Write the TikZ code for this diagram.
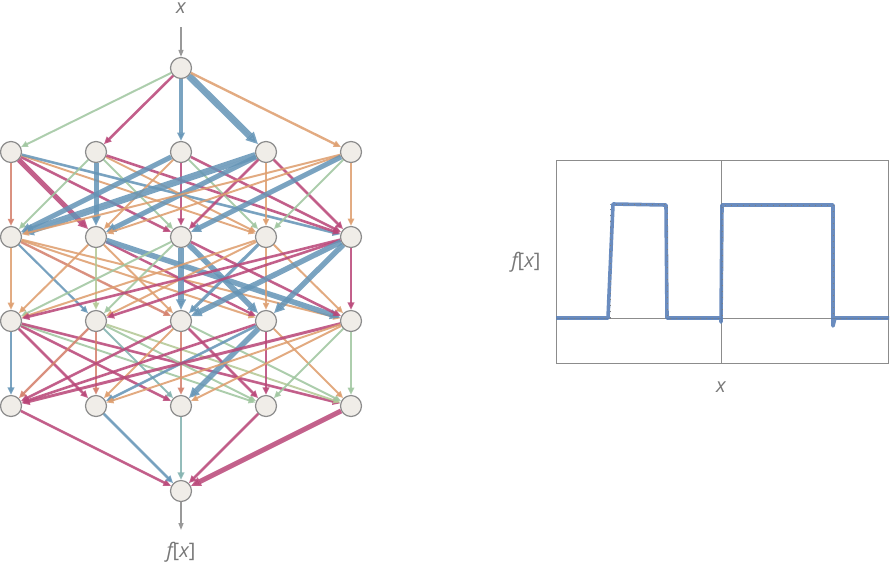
\documentclass[tikz,border=0pt]{standalone}
\usepackage{fontspec}
\newfontfamily\labfont{Open Sans}
\usetikzlibrary{arrows.meta}
\definecolor{cblue}{RGB}{100,148,182}
\definecolor{cmag}{RGB}{185,70,120}
\definecolor{corg}{RGB}{222,158,110}
\definecolor{csal}{RGB}{212,128,108}
\definecolor{cgrn}{RGB}{160,198,160}
\definecolor{cteal}{RGB}{130,178,175}
\definecolor{colive}{RGB}{180,200,150}
\definecolor{nodefill}{RGB}{240,237,232}
\definecolor{nodeline}{RGB}{140,140,140}
\definecolor{txtgray}{RGB}{120,120,120}
\definecolor{curveblue}{RGB}{90,128,184}
\begin{document}
\begin{tikzpicture}[x=1pt,y=-1pt,
  neuron/.style={circle,minimum size=21pt,inner sep=0pt,fill=nodefill,draw=nodeline,line width=1.2pt},
  wedge/.style={-{Triangle[length=5pt 1,width=4pt 1]},draw opacity=0.85,fill opacity=0.85},
  io/.style={-{Triangle[length=7pt,width=5pt]},draw=black!40,line width=1.4pt},
  lab/.style={font=\labfont\fontsize{20}{24}\selectfont,text=txtgray,inner sep=0pt},
  frame/.style={draw=black!45,line width=0.8pt}]
\useasboundingbox (0,0) rectangle (890,566);
% nodes
\node[neuron] (in) at (181,68) {};
\foreach \i/\x in {1/11,2/96,3/181,4/266,5/351}{
  \node[neuron] (a\i) at (\x,152) {};
  \node[neuron] (b\i) at (\x,237) {};
  \node[neuron] (c\i) at (\x,321) {};
  \node[neuron] (d\i) at (\x,406) {};
}
\node[neuron] (out) at (181,491) {};
% labels
\node[lab] (xl) at (181,8) {\itshape x};
\node[lab] (fl) at (181,552) {{\itshape f}[{\itshape x}]};
\coordinate (intop) at (181,27);
\coordinate (outbot) at (181,530);
\draw[io] (intop) -- (in);
\draw[io] (out) -- (outbot);
% weights: src/dst/color/width
\foreach \s/\d/\c/\w in {
 in/a1/cgrn/2.0, in/a2/cmag/2.6, in/a3/cblue/3.4, in/a4/cblue/7, in/a5/corg/2.4,
 a1/b1/csal/2.0, a1/b2/cmag/5.0, a1/b3/cmag/2.6, a1/b4/corg/2.0, a1/b5/cblue/2.6,
 a2/b1/cgrn/2.0, a2/b2/cblue/5.0, a2/b3/cgrn/2.0, a2/b4/corg/2.0, a2/b5/cmag/2.6,
 a3/b1/cblue/5.0, a3/b2/corg/2.0, a3/b3/cmag/2.6, a3/b4/cgrn/2.0, a3/b5/cmag/2.6,
 a4/b1/cblue/7, a4/b2/cblue/5.0, a4/b3/cmag/2.6, a4/b4/corg/2.0, a4/b5/cmag/2.6,
 a5/b1/corg/2.0, a5/b2/corg/2.0, a5/b3/cblue/5.0, a5/b4/cgrn/2.0, a5/b5/corg/2.2,
 b1/c1/corg/2.2, b1/c2/cblue/2.2, b1/c3/csal/2.4, b1/c4/corg/2.0, b1/c5/corg/2.0,
 b2/c1/corg/2.0, b2/c2/colive/2.4, b2/c3/corg/2.0, b2/c4/cmag/2.4, b2/c5/cblue/5.5,
 b3/c1/cgrn/2.0, b3/c2/cgrn/2.0, b3/c3/cblue/5.5, b3/c4/cblue/5.5, b3/c5/cmag/2.6,
 b4/c1/corg/2.0, b4/c2/corg/2.0, b4/c3/cblue/3.2, b4/c4/corg/2.0, b4/c5/corg/2.0,
 b5/c1/cmag/2.6, b5/c2/cmag/2.6, b5/c3/cblue/5.5, b5/c4/cblue/5.5, b5/c5/cmag/2.6,
 c1/d1/cblue/2.6, c1/d2/cmag/2.6, c1/d3/cmag/2.6, c1/d4/cgrn/2.0, c1/d5/cmag/2.6,
 c2/d1/csal/2.4, c2/d2/csal/2.4, c2/d3/cteal/2.0, c2/d4/cgrn/2.0, c2/d5/colive/2.0,
 c3/d1/cmag/2.6, c3/d2/corg/2.0, c3/d3/csal/2.4, c3/d4/cmag/2.6, c3/d5/cgrn/2.0,
 c4/d1/cmag/2.6, c4/d2/cblue/2.6, c4/d3/cblue/5.5, c4/d4/cmag/2.6, c4/d5/corg/2.0,
 c5/d1/cmag/3.0, c5/d2/corg/2.0, c5/d3/corg/2.0, c5/d4/cgrn/2.0, c5/d5/cgrn/2.4,
 d1/out/cmag/2.6, d2/out/cblue/2.6, d3/out/cteal/2.6, d4/out/cmag/2.6, d5/out/cmag/5.0}{
  \draw[wedge,draw=\c,fill=\c,line width=\w pt] (\s) -- (\d);
}
% plot
\node[lab] (py) at (526,262) {{\itshape f}[{\itshape x}]};
\node[lab] (px) at (721,387) {\itshape x};
\draw[frame] (556,160) rectangle (888,363);
\draw[frame] (721.5,160) -- (721.5,363);
\draw[frame] (556,318.5) -- (888,318.5);
\draw[curveblue,line width=3.6pt,line join=round,draw opacity=0.9]
  (556,318) -- (608,318) -- (613,204) -- (666,205) -- (667,318) -- (721,318) -- (721,322) -- (722,205)
  -- (833,205) -- (833,326) -- (835,318) -- (889,318);
\draw[black!50,line width=1pt,dash pattern=on 1pt off 5pt]
  (556,318) -- (610,318) -- (610,204) -- (667,204) -- (667,318) -- (722,318) -- (722,205)
  -- (833,205) -- (833,318) -- (889,318);
\end{tikzpicture}
\end{document}
